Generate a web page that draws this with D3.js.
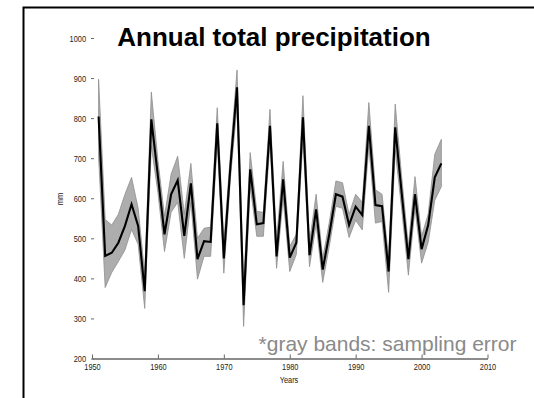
<!DOCTYPE html>
<html>
<head>
<meta charset="utf-8">
<script src="https://cdn.jsdelivr.net/npm/d3@7"></script>
<style>
  html, body { margin: 0; padding: 0; background: #fff; }
  svg { display: block; }
  .tick text, .axis-label { font-family: "Liberation Sans", Arial, sans-serif; font-size: 9.5px; fill: #222; }
</style>
</head>
<body>
<svg id="chart" width="534" height="398"></svg>
<script>
// Annual total precipitation (mm) with sampling-error band
const years = [1951,1952,1953,1954,1955,1956,1957,1958,1959,1960,
               1961,1962,1963,1964,1965,1966,1967,1968,1969,1970,
               1971,1972,1973,1974,1975,1976,1977,1978,1979,1980,
               1981,1982,1983,1984,1985,1986,1987,1988,1989,1990,
               1991,1992,1993,1994,1995,1996,1997,1998,1999,2000,
               2001,2002,2003];
const precip = [804,456,464,489,531,585,531,368,797,655,
                510,610,645,506,637,448,493,491,787,450,
                680,877,333,672,535,538,781,455,647,452,
                489,802,458,572,422,510,610,604,533,579,
                558,781,583,580,417,777,610,448,610,473,
                533,652,687];
const bandLow = [705,377,415,442,471,522,485,325,730,615,
                 467,565,590,450,590,398,455,455,740,413,
                 650,830,280,630,505,505,740,425,600,417,
                 460,750,429,535,390,480,580,575,502,545,
                 521,730,538,542,365,720,570,408,575,438,
                 490,595,629];
const bandHigh = [897,547,533,560,610,652,575,410,865,695,
                  555,660,705,560,687,500,525,528,826,490,
                  710,920,380,714,567,565,822,495,692,480,
                  510,856,490,610,450,540,643,639,560,610,
                  590,839,621,610,450,835,650,480,654,505,
                  560,710,747];
const xTicks = [1950,1960,1970,1980,1990,2000,2010];
const yTicks = [200,300,400,500,600,700,800,900,1000];

const narrow = 0.78;   // horizontal squeeze for the small axis text

const svg = d3.select("#chart");

// outer frame
svg.append("rect")
  .attr("x", 23.5).attr("y", 7.5)
  .attr("width", 620).attr("height", 500)
  .attr("fill", "none").attr("stroke", "#000").attr("stroke-width", 2);

const x = d3.scaleLinear().domain([1950, 2010]).range([92, 487.5]);
const y = d3.scaleLinear().domain([200, 1000]).range([358.5, 38]);

const rows = years.map((yr, i) => ({ yr, v: precip[i], lo: bandLow[i], hi: bandHigh[i] }));

// sampling-error band
svg.append("path")
  .datum(rows)
  .attr("fill", "#adadad")
  .attr("stroke", "#8e8e8e")
  .attr("stroke-width", 0.8)
  .attr("d", d3.area().x(d => x(d.yr)).y0(d => y(d.lo)).y1(d => y(d.hi)));

// annual totals
svg.append("path")
  .datum(rows)
  .attr("fill", "none")
  .attr("stroke", "#000")
  .attr("stroke-width", 2.1)
  .attr("stroke-linejoin", "miter")
  .attr("d", d3.line().x(d => x(d.yr)).y(d => y(d.v)));

// x axis
const gx = svg.append("g")
  .attr("transform", `translate(0,${y(200)})`)
  .call(d3.axisBottom(x).tickValues(xTicks).tickFormat(d3.format("d"))
        .tickSizeInner(-4).tickSizeOuter(0).tickPadding(5));
gx.select(".domain").attr("stroke", "#666").attr("stroke-width", 1.3);
gx.selectAll(".tick line").attr("stroke", "#666");
gx.selectAll(".tick text").attr("transform", `scale(${narrow},1)`);

// y axis (ticks only)
const gy = svg.append("g")
  .attr("transform", "translate(94,0)")
  .call(d3.axisLeft(y).tickValues(yTicks).tickFormat(d3.format("d"))
        .tickSizeInner(3).tickSizeOuter(0).tickPadding(5));
gy.select(".domain").remove();
gy.selectAll(".tick line").attr("stroke", "#666");
gy.selectAll(".tick text")
  .attr("x", -8 / narrow)
  .attr("transform", `scale(${narrow},1)`);

// axis titles
svg.append("text").attr("class", "axis-label")
  .attr("transform", `translate(289,382.5) scale(${narrow},1)`)
  .attr("text-anchor", "middle")
  .text("Years");
svg.append("text").attr("class", "axis-label")
  .attr("transform", `translate(63,199) rotate(-90) scale(${narrow},1)`)
  .attr("text-anchor", "middle")
  .text("mm");

// title
svg.append("text")
  .attr("x", 274).attr("y", 45.5).attr("text-anchor", "middle")
  .attr("font-family", "'Liberation Sans', Arial, sans-serif")
  .attr("font-weight", "bold").attr("font-size", 26)
  .attr("fill", "#000")
  .text("Annual total precipitation");

// note
svg.append("text")
  .attr("x", 516.5).attr("y", 351).attr("text-anchor", "end")
  .attr("font-family", "'Liberation Sans', Arial, sans-serif")
  .attr("font-size", 21).attr("fill", "#8a8a8a")
  .text("*gray bands: sampling error");
</script>
</body>
</html>
